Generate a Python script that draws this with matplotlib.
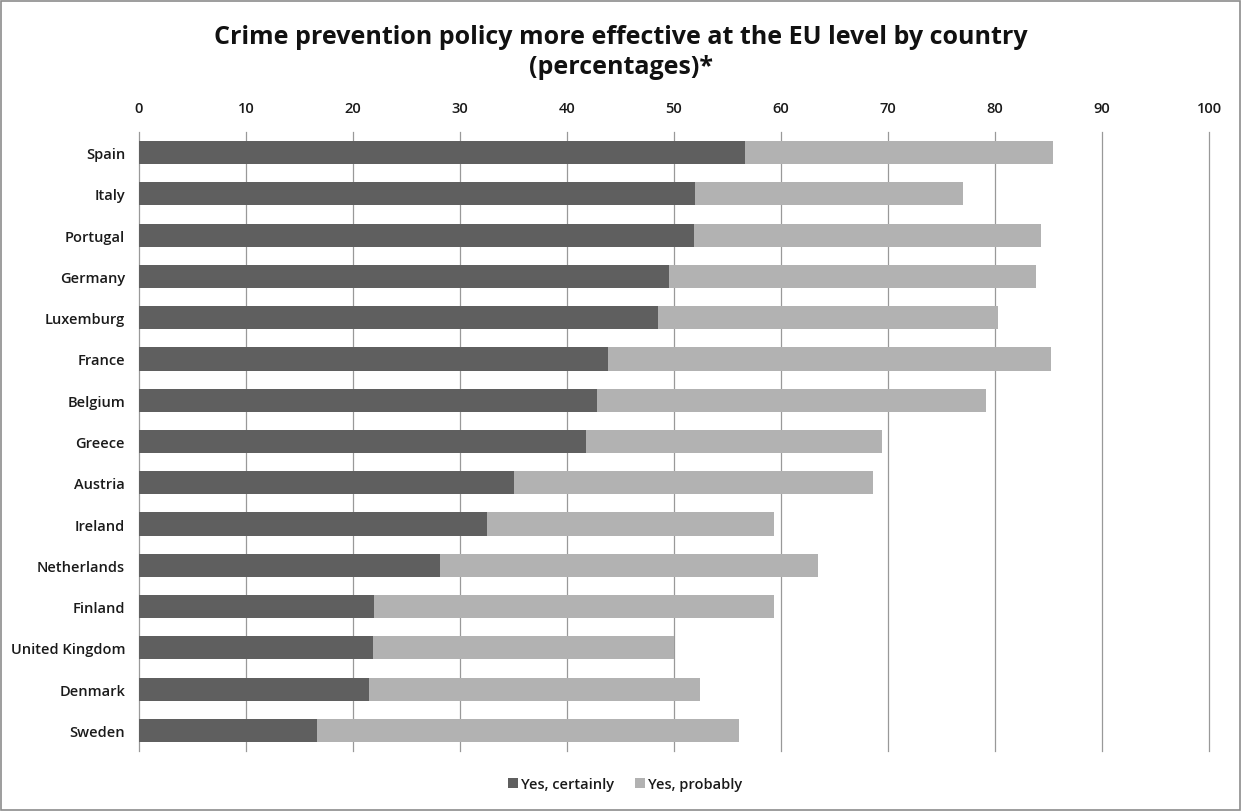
import matplotlib
matplotlib.use("Agg")
import matplotlib.pyplot as plt
from matplotlib.patches import Rectangle

countries = ["Spain", "Italy", "Portugal", "Germany", "Luxemburg", "France", "Belgium",
             "Greece", "Austria", "Ireland", "Netherlands", "Finland", "United Kingdom",
             "Denmark", "Sweden"]
certainly = [56.6, 52.0, 51.9, 49.5, 48.5, 43.8, 42.8, 41.8, 35.0, 32.5, 28.1, 22.0, 21.9, 21.5, 16.6]
total = [85.4, 77.0, 84.3, 83.8, 80.3, 85.2, 79.2, 69.4, 68.6, 59.3, 63.5, 59.3, 50.0, 52.4, 56.1]
probably = [t - c for t, c in zip(total, certainly)]
xticks = list(range(0, 101, 10))

plt.rcParams['font.family'] = ['Open Sans', 'DejaVu Sans']

fig = plt.figure(figsize=(12.41, 8.12), dpi=100)
fig.patches.append(Rectangle((0.001, 0.001), 0.998, 0.997, transform=fig.transFigure,
                             fill=False, edgecolor='#8c8c8c', linewidth=1.2))
ax = fig.add_axes([139 / 1241, 1 - 752 / 812, (1209 - 139) / 1241, (752 - 133) / 812])

y = list(range(len(countries)))
ax.barh(y, certainly, height=0.56, color='#5f5f5f', label='Yes, certainly', zorder=2)
ax.barh(y, probably, left=certainly, height=0.56, color='#b2b2b2', label='Yes, probably', zorder=2)

ax.set_xlim(0, 100)
ax.set_ylim(len(countries) - 0.5, -0.5)
ax.set_yticks(y)
ax.set_yticklabels(countries, fontsize=10.5, fontweight='semibold', color='#1a1a1a')
ax.set_xticks(xticks)
ax.set_xticklabels([str(v) for v in xticks], fontsize=10.5, fontweight='semibold', color='#1a1a1a')
ax.xaxis.tick_top()
ax.tick_params(axis='x', length=0, pad=12)
ax.tick_params(axis='y', length=0, pad=10)
for v in xticks:
    ax.axvline(v, color='#999999', linewidth=0.9, zorder=1, clip_on=False)
for s in ax.spines.values():
    s.set_visible(False)

fig.suptitle("Crime prevention policy more effective at the EU level by country\n(percentages)*",
             fontsize=18, fontweight='bold', y=0.969, linespacing=1.25, color='#111111')
leg = fig.legend(loc='center', bbox_to_anchor=(625 / 1241, 1 - 785 / 812), ncol=2, frameon=False,
                 fontsize=10.5, handlelength=0.7, handleheight=0.7, handletextpad=0.2,
                 columnspacing=1.4)
for t in leg.get_texts():
    t.set_fontweight('semibold')
    t.set_color('#1a1a1a')

fig.savefig("out.png", dpi=100)
